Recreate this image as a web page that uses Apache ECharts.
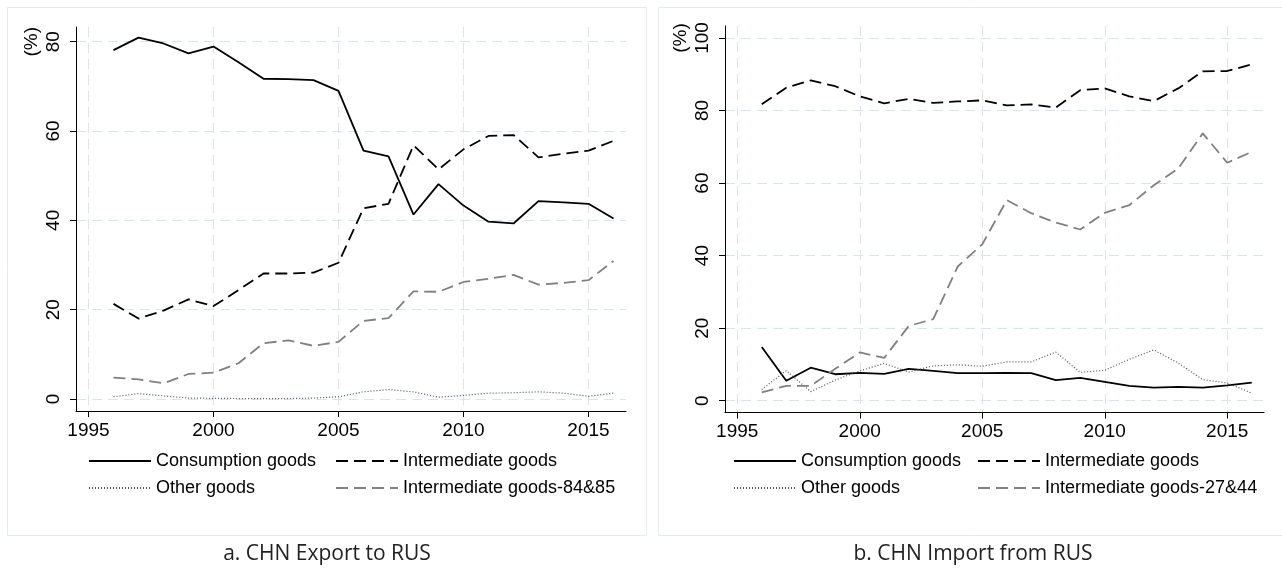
<!DOCTYPE html>
<html>
<head>
<meta charset="utf-8">
<script src="https://cdn.jsdelivr.net/npm/echarts@6/dist/echarts.min.js"></script>
<style>
html,body{margin:0;padding:0;background:#fff;}
#c{width:1282px;height:569px;}
</style>
</head>
<body>
<div id="c"></div>
<script>
// ---- data ----
const years = [1996,1997,1998,1999,2000,2001,2002,2003,2004,2005,2006,2007,2008,2009,2010,2011,2012,2013,2014,2015,2016];
const xTicks = [1995,2000,2005,2010,2015];
const yTicksA = [0,20,40,60,80];
const yTicksB = [0,20,40,60,80,100];
const unitLabel = '(%)';
const titleA = 'a. CHN Export to RUS';
const titleB = 'b. CHN Import from RUS';
const nameCons = 'Consumption goods';
const nameInter = 'Intermediate goods';
const nameOther = 'Other goods';
const name8485 = 'Intermediate goods-84&85';
const name2744 = 'Intermediate goods-27&44';

// a. CHN Export to RUS
const consA  = [78.1,80.9,79.6,77.4,78.9,75.4,71.7,71.6,71.4,69.0,55.6,54.3,41.3,48.1,43.3,39.7,39.3,44.3,44.0,43.7,40.4];
const interA = [21.3,18.0,19.8,22.3,20.8,24.4,28.1,28.1,28.3,30.5,42.7,43.7,56.8,51.4,55.9,58.9,59.1,54.1,54.9,55.6,57.8];
const otherA = [0.5,1.2,0.7,0.2,0.15,0.1,0.1,0.1,0.2,0.5,1.6,2.1,1.6,0.4,0.8,1.3,1.4,1.6,1.3,0.6,1.3];
const hs8485 = [4.8,4.4,3.5,5.6,5.9,8.0,12.5,13.1,11.9,12.8,17.5,18.1,24.1,24.0,26.2,26.9,27.8,25.6,26.0,26.6,30.9];

// b. CHN Import from RUS
const consB  = [14.8,5.5,9.1,7.3,7.7,7.4,8.8,8.2,7.6,7.6,7.7,7.6,5.7,6.3,5.2,4.1,3.6,3.8,3.6,4.2,5.0];
const interB = [81.7,86.3,88.3,86.7,83.9,82.0,83.2,82.1,82.5,82.8,81.4,81.7,80.8,85.6,86.1,83.9,82.6,86.1,90.8,90.9,92.7];
const otherB = [3.1,8.3,2.5,5.7,8.2,10.3,7.9,9.6,9.9,9.5,10.7,10.7,13.4,7.8,8.4,11.4,14.0,10.4,5.8,4.9,2.1];
const hs2744 = [2.3,4.1,4.1,8.8,13.3,11.8,20.6,22.5,37.0,43.1,55.3,51.7,49.1,47.2,51.8,53.9,59.4,64.0,73.7,65.6,68.6];

// ---- styles ----
const FONT = '"Liberation Sans", Arial, Helvetica, sans-serif';
const GRID = '#d9e5ea';
const S_SOLID = {color:'#000000', width:1.8, type:'solid'};
const S_DASH  = {color:'#000000', width:1.8, type:[12,6]};
const S_GDASH = {color:'#808080', width:1.8, type:[12,6]};
const S_DOT   = {color:'#505050', width:1.2, type:[1,2]};

function xAx(gi){
  return {
    type:'value', gridIndex:gi, min:1994.5, max:2016.5,
    axisLine:{show:true, onZero:false, lineStyle:{color:'#000', width:1}},
    axisTick:{show:true, inside:false, length:6, customValues:xTicks, lineStyle:{color:'#000', width:1}},
    axisLabel:{show:true, customValues:xTicks, fontSize:19, fontFamily:FONT, color:'#000', margin:10,
      formatter:function(v){ return String(v); }},
    splitLine:{show:true, lineStyle:{color:GRID, width:1, type:[10,6]}}
  };
}
function yAx(gi, min, max, ticks){
  const topTick = ticks[ticks.length-1];
  return {
    type:'value', gridIndex:gi, min:min, max:max,
    axisLine:{show:true, onZero:false, lineStyle:{color:'#000', width:1}},
    axisTick:{show:true, inside:false, length:6, customValues:ticks, lineStyle:{color:'#000', width:1}},
    axisLabel:{show:true, customValues:ticks, rotate:90, fontSize:19, lineHeight:22, fontFamily:FONT, color:'#000', margin:11,
      formatter:function(v){ return v===topTick ? unitLabel + '\n' + v : String(v); }},
    splitLine:{show:true, lineStyle:{color:GRID, width:1, type:[10,6]}}
  };
}
function ser(name, gi, vals, ls){
  return {
    type:'line', name:name, xAxisIndex:gi, yAxisIndex:gi,
    data: years.map(function(y,i){ return [y, vals[i]]; }),
    symbol:'none', showSymbol:false, silent:true,
    lineStyle: ls, itemStyle:{color: ls.color}
  };
}
function leg(left, names){
  return {
    orient:'vertical', left:left, top:452, padding:0,
    itemWidth:62, itemHeight:14, itemGap:9,
    selectedMode:false, data:names,
    itemStyle:{opacity:0},
    textStyle:{fontSize:18, fontFamily:FONT, color:'#000'}
  };
}

const chart = echarts.init(document.getElementById('c'), null, {renderer:'canvas'});
chart.setOption({
  animation:false,
  backgroundColor:'#ffffff',
  graphic:[
    {type:'rect', silent:true, shape:{x:7.5, y:7.5, width:639, height:528}, style:{fill:'none', stroke:'#e4ebee', lineWidth:1}},
    {type:'rect', silent:true, shape:{x:658.5, y:7.5, width:640, height:528}, style:{fill:'none', stroke:'#e4ebee', lineWidth:1}}
  ],
  title:[
    {text:titleA, left:327, top:544, textAlign:'center', padding:0,
      textStyle:{fontFamily:'"Open Sans", "Noto Sans", sans-serif', fontSize:21, fontWeight:'normal', color:'#222'}},
    {text:titleB, left:973, top:544, textAlign:'center', padding:0,
      textStyle:{fontFamily:'"Open Sans", "Noto Sans", sans-serif', fontSize:21, fontWeight:'normal', color:'#222'}}
  ],
  grid:[
    {left:76, top:27, width:550, height:384},
    {left:725, top:26, width:539, height:386.5}
  ],
  xAxis:[xAx(0), xAx(1)],
  yAxis:[yAx(0, -2.69, 83.29, yTicksA), yAx(1, -3.25, 103.3, yTicksB)],
  legend:[
    leg(88, [nameCons, nameOther]),
    leg(335, [nameInter, name8485]),
    leg(733, [nameCons, nameOther]),
    leg(977, [nameInter, name2744])
  ],
  series:[
    ser(nameCons, 0, consA, S_SOLID),
    ser(nameInter, 0, interA, S_DASH),
    ser(nameOther, 0, otherA, S_DOT),
    ser(name8485, 0, hs8485, S_GDASH),
    ser(nameCons, 1, consB, S_SOLID),
    ser(nameInter, 1, interB, S_DASH),
    ser(nameOther, 1, otherB, S_DOT),
    ser(name2744, 1, hs2744, S_GDASH)
  ]
});
</script>
</body>
</html>
